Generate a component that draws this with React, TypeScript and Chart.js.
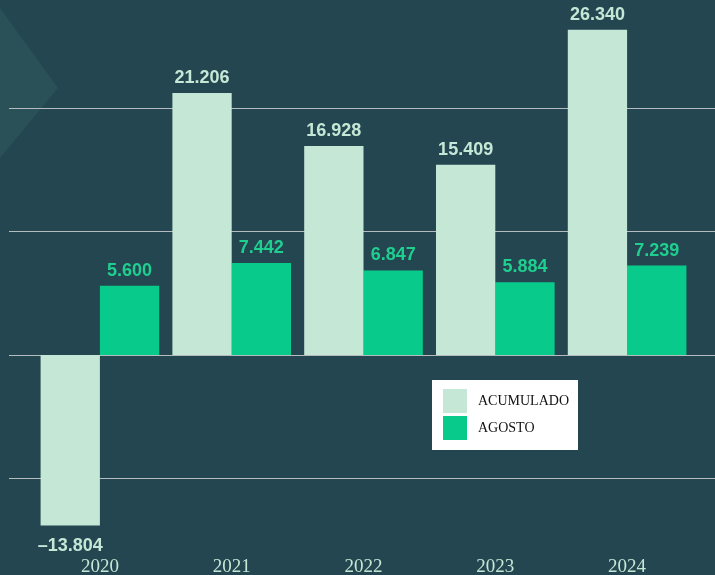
import React, { useEffect, useRef } from "react";
import { Chart, registerables } from "chart.js";

Chart.register(...registerables);

const years = ["2020", "2021", "2022", "2023", "2024"];
const acumulado = [-13804, 21206, 16928, 15409, 26340];
const agosto = [5600, 7442, 6847, 5884, 7239];
const gridValues = [20000, 10000, 0, -10000];

const BG = "#244651";
const C_ACU = "#c5e7d5";
const C_AGO = "#08cb8b";

function fmt(v: number): string {
  const s = Math.abs(v).toString().replace(/\B(?=(\d{3})+(?!\d))/g, ".");
  return (v < 0 ? "\u2013" : "") + s;
}

const bgPlugin = {
  id: "bgPlugin",
  beforeDraw(chart: any) {
    const ctx = chart.ctx;
    ctx.save();
    ctx.fillStyle = BG;
    ctx.fillRect(0, 0, chart.width, chart.height);
    ctx.fillStyle = "#2a5157";
    ctx.beginPath();
    ctx.moveTo(0, 8);
    ctx.lineTo(58, 88);
    ctx.lineTo(0, 158);
    ctx.closePath();
    ctx.fill();
    const y = chart.scales.y;
    ctx.strokeStyle = "#b4bcbf";
    ctx.lineWidth = 1;
    gridValues.forEach((g) => {
      const py = Math.round(y.getPixelForValue(g)) + 0.5;
      ctx.beginPath();
      ctx.moveTo(9, py);
      ctx.lineTo(chart.width, py);
      ctx.stroke();
    });
    ctx.restore();
  },
};

const labelPlugin = {
  id: "labelPlugin",
  afterDatasetsDraw(chart: any) {
    const ctx = chart.ctx;
    ctx.save();
    ctx.font = "bold 18px 'Liberation Sans', Arial, sans-serif";
    ctx.textAlign = "center";
    chart.data.datasets.forEach((ds: any, di: number) => {
      const meta = chart.getDatasetMeta(di);
      ctx.fillStyle = di === 0 ? C_ACU : "#1fcf90";
      meta.data.forEach((bar: any, i: number) => {
        const v = ds.data[i];
        if (v >= 0) {
          ctx.textBaseline = "alphabetic";
          ctx.fillText(fmt(v), bar.x, bar.y - 10);
        } else {
          ctx.textBaseline = "top";
          ctx.fillText(fmt(v), bar.x, bar.y + 12);
        }
      });
    });
    // legend box
    const lx = 432, ly = 380, lw = 146, lh = 70;
    ctx.fillStyle = "#ffffff";
    ctx.fillRect(lx, ly, lw, lh);
    ctx.font = "14px 'Liberation Serif', 'Times New Roman', serif";
    ctx.textAlign = "left";
    ctx.textBaseline = "middle";
    chart.data.datasets.forEach((ds: any, di: number) => {
      const sy = 389 + di * 27;
      ctx.fillStyle = ds.backgroundColor;
      ctx.fillRect(443, sy, 24, 24);
      ctx.fillStyle = "#111111";
      ctx.fillText(ds.label, 478, sy + 12);
    });
    ctx.restore();
  },
};

export default function App() {
  const ref = useRef<HTMLCanvasElement>(null);
  useEffect(() => {
    if (!ref.current) return;
    const chart = new Chart(ref.current, {
      type: "bar",
      data: {
        labels: years,
        datasets: [
          { label: "ACUMULADO", data: acumulado, backgroundColor: C_ACU, borderWidth: 0 },
          { label: "AGOSTO", data: agosto, backgroundColor: C_AGO, borderWidth: 0 },
        ],
      },
      options: {
        animation: false,
        responsive: false,
        maintainAspectRatio: false,
        layout: { padding: { left: 34, right: 22, top: 0, bottom: 0 } },
        plugins: { legend: { display: false }, tooltip: { enabled: false } },
        scales: {
          x: {
            grid: { display: false },
            border: { display: false },
            ticks: {
              color: C_ACU,
              font: { family: "'Liberation Serif', 'Times New Roman', serif", size: 19 },
              padding: -3,
              maxRotation: 0,
            },
          },
          y: {
            display: false,
            min: -15806,
            max: 28745,
          },
        },
        datasets: { bar: { categoryPercentage: 0.9, barPercentage: 1.0 } } as any,
      },
      plugins: [bgPlugin, labelPlugin],
    });
    return () => chart.destroy();
  }, []);
  return (
    <div style={{ position: "fixed", left: 0, top: 0, width: 715, height: 575, background: BG }}>
      <canvas ref={ref} width={715} height={575} style={{ display: "block" }} />
    </div>
  );
}
